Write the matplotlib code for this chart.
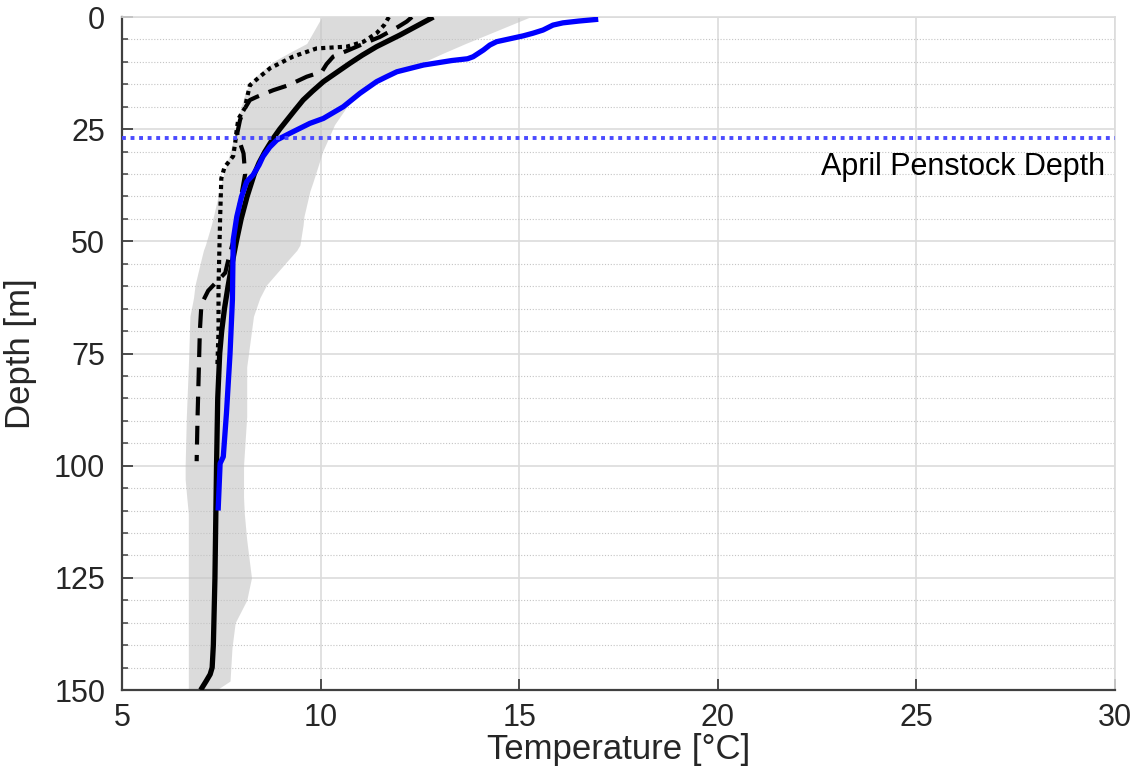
import matplotlib
matplotlib.use("Agg")
import matplotlib.pyplot as plt
from matplotlib.ticker import MultipleLocator

plt.rcParams['font.family'] = ['Liberation Sans', 'DejaVu Sans']

# solid black: mean profile
mean_depth = [0, 2, 4, 6.6, 8.5, 10.3, 12.5, 14.4, 16.5, 18.5, 21, 23, 25, 27, 30, 32.5, 35, 37.5,
              40, 45, 50, 55, 60, 65, 70, 75, 85, 100, 125, 140, 145, 146.5, 148, 150]
mean_temp = [12.84, 12.42, 12.0, 11.41, 11.05, 10.74, 10.38, 10.07, 9.8, 9.56, 9.33, 9.15, 8.97,
             8.81, 8.6, 8.45, 8.33, 8.24, 8.15, 8.0, 7.88, 7.77, 7.67, 7.58, 7.51, 7.46, 7.41, 7.38,
             7.34, 7.3, 7.27, 7.22, 7.12, 6.98]

# blue: April profile
april_depth = [0.5, 0.9, 1.3, 1.8, 2.9, 3.6, 4.2, 5.5, 6.25, 7.35, 8.85, 9.3, 9.7, 10.7, 12.2,
               13.3, 14.4, 17, 20, 22.6, 23.7, 25.9, 27.4, 29, 31.1, 33, 35.2, 36.7, 40, 44.5,
               49.7, 63, 75, 88.3, 98, 99.5, 110]
april_temp = [16.99, 16.5, 16.1, 15.85, 15.6, 15.35, 15.1, 14.43, 14.26, 14.1, 13.84, 13.7, 13.3,
              12.59, 11.92, 11.66, 11.41, 10.99, 10.57, 10.07, 9.73, 9.23, 8.9, 8.72, 8.55, 8.45,
              8.3, 8.14, 8.01, 7.89, 7.8, 7.78, 7.72, 7.63, 7.55, 7.47, 7.42]

# dashed black
dash_depth = [0, 1, 2.2, 4.4, 5.5, 7.4, 8.8, 10.5, 12.2, 13.3, 15.2, 16.3, 17.8, 18.5, 21, 23,
              26, 28, 30.4, 35, 40, 45, 50, 54, 57, 61, 64, 70, 80, 90, 99]
dash_temp = [12.3, 12.17, 11.95, 11.5, 11.2, 10.7, 10.32, 10.15, 10.03, 9.65, 9.19, 8.81, 8.39,
             8.22, 8.05, 7.97, 7.9, 7.97, 8.06, 8.1, 8.0, 7.9, 7.8, 7.68, 7.6, 7.17, 7.0, 6.96,
             6.93, 6.9, 6.88]

# dotted black
dot_depth = [0, 1.8, 3.6, 5.5, 6.6, 7.0, 8.8, 11.4, 13.3, 15.2, 18.3, 20.2, 22.7, 25, 28, 31,
             33.5, 36, 45, 60, 70, 78]
dot_temp = [11.72, 11.6, 11.41, 11.08, 10.66, 9.9, 9.31, 8.73, 8.47, 8.22, 8.14, 8.1, 7.93, 7.89,
            7.85, 7.8, 7.58, 7.5, 7.47, 7.43, 7.43, 7.4]

# grey envelope
band_depth = [0, 5.9, 8, 10, 13, 14, 16, 17, 20, 24, 27, 30, 32, 37, 38.8, 44.5, 46.3, 50.8, 52,
              54.5, 59.7, 62.6, 66.7, 78, 89, 100, 103, 107, 110.7, 116.5, 125, 130, 135, 140.5,
              148, 150]
band_lo = [10.03, 9.65, 9.2, 8.8, 8.4, 8.3, 8.15, 8.1, 8.0, 7.88, 7.82, 7.72, 7.66, 7.5, 7.45,
           7.3, 7.25, 7.1, 7.05, 6.98, 6.84, 6.8, 6.71, 6.67, 6.62, 6.59, 6.59, 6.63, 6.67, 6.67,
           6.67, 6.67, 6.67, 6.67, 6.67, 6.67]
band_hi = [15.27, 13.65, 13.1, 12.6, 11.8, 11.5, 11.15, 11.0, 10.66, 10.35, 10.2, 10.05, 9.98,
           9.8, 9.73, 9.58, 9.56, 9.48, 9.4, 9.15, 8.64, 8.47, 8.31, 8.14, 8.14, 8.06, 8.06, 8.06,
           8.08, 8.14, 8.26, 8.14, 7.85, 7.77, 7.72, 7.38]

penstock_depth = 27
xticks = [5, 10, 15, 20, 25, 30]
yticks = [0, 25, 50, 75, 100, 125, 150]

fig = plt.figure(figsize=(11.38, 7.81), dpi=100)
ax = fig.add_axes([0.1072, 0.1165, 0.8726, 0.8617])

ax.fill_betweenx(band_depth, band_lo, band_hi, color='#c4c4c4', alpha=0.6, lw=0, zorder=1)

ax.plot(dot_temp, dot_depth, color='black', lw=3.0, ls=(0, (1, 1)), dash_capstyle='butt', zorder=3)
ax.plot(dash_temp, dash_depth, color='black', lw=3.0, ls=(0, (4.5, 2.5)), zorder=3)
ax.plot(mean_temp, mean_depth, color='black', lw=3.8, solid_capstyle='butt', zorder=4)
ax.plot(april_temp, april_depth, color='#0000ff', lw=3.8, solid_capstyle='butt', zorder=5)
ax.axhline(penstock_depth, color='#4b4bff', lw=2.8, ls=(0, (1, 1.2)), dash_capstyle='butt', zorder=6)
ax.text(29.75, 33.4, 'April Penstock Depth', ha='right', va='center', fontsize=22, color='black')

ax.set_xlim(5, 30)
ax.set_ylim(150, 0)
ax.set_xticks(xticks)
ax.set_yticks(yticks)
ax.yaxis.set_minor_locator(MultipleLocator(5))

ax.grid(True, which='major', color='#dcdcdc', lw=1.2, zorder=0)
ax.grid(True, which='minor', axis='y', color='#c4c4c4', lw=0.8, ls=(0, (1, 1.6)), zorder=0)
ax.set_axisbelow(True)

for side in ['top', 'right']:
    ax.spines[side].set_color('#dcdcdc')
    ax.spines[side].set_linewidth(1.2)
for side in ['left', 'bottom']:
    ax.spines[side].set_color('#404040')
    ax.spines[side].set_linewidth(1.6)

ax.tick_params(which='major', direction='in', length=8, width=1.3, color='#404040',
               labelsize=22, labelcolor='#262626', pad=12)
ax.tick_params(which='minor', direction='in', length=4, width=1.1, color='#404040')
ax.tick_params(axis='x', which='major', pad=9)

ax.set_xlabel('Temperature [°C]', fontsize=25, color='#262626', labelpad=0)
ax.set_ylabel('Depth [m]', fontsize=25, color='#262626', labelpad=12)

fig.savefig('out.png', dpi=100)
